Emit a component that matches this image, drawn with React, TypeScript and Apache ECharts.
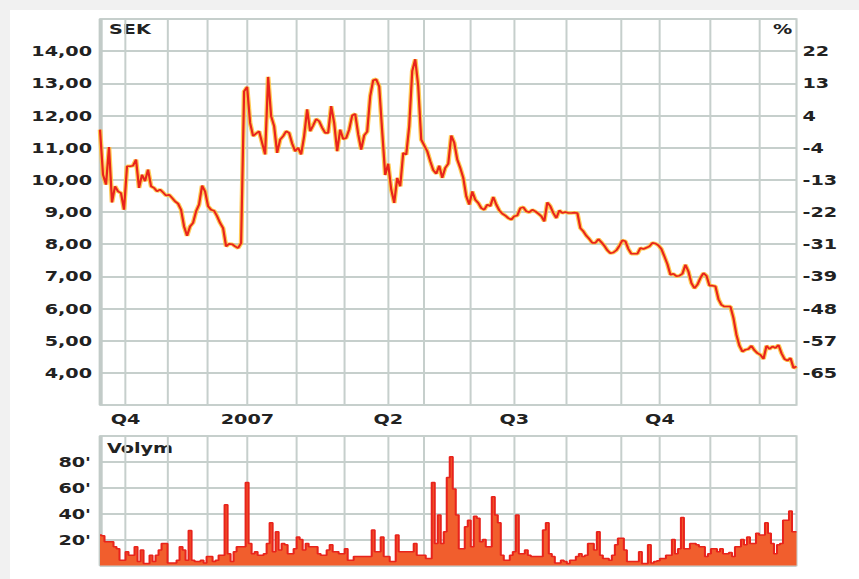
import React, { useEffect, useRef } from "react";
import * as echarts from "echarts";

// Daily-ish closing price (SEK)
const price = [
  11.56, 10.16, 9.85, 11.02, 9.3, 9.8, 9.64, 9.59, 9.07, 10.42,
  10.42, 10.44, 10.63, 9.75, 10.16, 9.96, 10.32, 9.8, 9.75, 9.64,
  9.7, 9.61, 9.51, 9.54, 9.44, 9.33, 9.26, 9.07, 8.55, 8.26,
  8.55, 8.66, 9.02, 9.23, 9.82, 9.64, 9.18, 9.07, 9.04, 8.87,
  8.66, 8.5, 7.93, 8.01, 8.0, 7.93, 7.88, 8.03, 12.75, 12.89,
  11.77, 11.36, 11.44, 11.51, 11.15, 10.79, 13.2, 11.98, 11.67, 10.84,
  11.25, 11.36, 11.51, 11.46, 11.13, 10.89, 11.0, 10.79, 11.36, 12.19,
  11.51, 11.69, 11.89, 11.82, 11.62, 11.46, 11.46, 12.29, 11.77, 10.89,
  11.56, 11.27, 11.3, 11.56, 12.0, 12.05, 11.42, 10.94, 11.38, 11.5,
  12.6, 13.1, 13.13, 12.9, 11.5, 10.15, 10.5, 9.7, 9.28, 10.06,
  9.8, 10.84, 10.78, 11.67, 13.38, 13.75, 12.91, 11.25, 11.07, 10.89,
  10.58, 10.3, 10.19, 10.44, 10.06, 10.37, 10.5, 11.38, 11.15, 10.63,
  10.37, 10.06, 9.49, 9.23, 9.64, 9.38, 9.28, 9.12, 9.07, 9.23,
  9.18, 9.47, 9.23, 9.05, 8.95, 8.89, 8.81, 8.76, 8.87, 8.89,
  9.12, 9.15, 9.02, 8.99, 9.07, 9.02, 8.95, 8.87, 8.71, 9.3,
  9.18, 8.97, 8.81, 9.05, 8.97, 9.0, 8.97, 8.97, 8.98, 8.97,
  8.5, 8.4, 8.26, 8.16, 8.04, 8.04, 8.16, 8.06, 7.95, 7.81,
  7.72, 7.74, 7.81, 7.95, 8.12, 8.09, 7.85, 7.7, 7.7, 7.7,
  7.88, 7.85, 7.89, 7.93, 8.04, 8.02, 7.96, 7.85, 7.62, 7.38,
  7.05, 7.08, 7.0, 7.02, 7.08, 7.36, 7.15, 6.79, 6.63, 6.74,
  6.95, 7.1, 7.02, 6.71, 6.71, 6.69, 6.29, 6.11, 6.06, 6.06,
  6.06, 5.7, 5.18, 4.84, 4.66, 4.72, 4.74, 4.84, 4.7, 4.61,
  4.56, 4.43, 4.84, 4.74, 4.82, 4.77, 4.87, 4.61, 4.43, 4.38,
  4.46, 4.15, 4.2,
];

// Volume in thousands
const volume = [
  23.6, 23, 18.4, 18.4, 18.4, 14.5, 13, 4, 4, 10.6,
  8, 8, 14.5, 3, 12, 1.5, 1.5, 8, 3, 8,
  12, 17, 17, 2, 2, 2, 4, 14.5, 12, 4,
  27, 4, 3, 3, 4, 2, 7, 7, 3, 4,
  8, 8, 47, 9, 3, 10.6, 14.5, 14.5, 14.5, 64,
  17, 9, 10.6, 8, 8, 9, 17, 33, 10.6, 26,
  12, 17, 16, 9, 9, 13, 22, 20, 12, 17,
  14.5, 14.5, 14.5, 9, 8, 8, 12, 16, 10.6, 10.6,
  9, 9, 13, 4, 4, 7, 7, 7, 7, 7,
  7, 27.5, 10.6, 10.6, 22, 7, 7, 3, 3, 23.6,
  10.6, 10.6, 10.6, 10.6, 10.6, 17, 8, 8, 8, 5.5,
  5.5, 64, 17, 39, 17, 26, 68, 84, 59, 39,
  13, 13, 30, 35, 14.5, 38, 36.5, 18.4, 20, 14.5,
  14.5, 53, 39, 33, 8, 4, 4, 8, 10.6, 39,
  9, 9, 12, 8, 7, 7, 7, 7, 27.5, 33,
  9, 7, 2, 2, 4, 3, 1.5, 4, 4, 7,
  9, 7, 8, 17, 17, 12, 26, 8, 5.5, 5.5,
  4, 8, 16, 21, 21, 12, 3, 3, 3, 3,
  10.6, 1.5, 1.5, 16, 2, 3, 3.6, 5.5, 5.5, 8,
  8, 20, 9, 13, 37, 13, 13, 17, 17, 16,
  14.5, 14.5, 7, 9, 13, 13, 10.6, 13, 9, 9,
  10, 7, 14.5, 14.5, 20, 16, 22, 17, 17, 25,
  23.6, 23.6, 33, 25, 17, 9, 16, 17, 35, 35,
  42, 26, 26,
];

// Month boundaries (in trading-day index units) and quarter labels
const monthTicks = [8.5, 22.6, 35.7, 49.1, 65.5, 81.3, 96, 107.7, 123.5, 138, 155.2, 173.3, 186.5, 203, 219.5];
const quarterTicks = [8.5, 49.1, 96, 138, 186.5];
const quarterLabels = ["Q4", "2007", "Q2", "Q3", "Q4"];

const priceLabels = ["4,00", "5,00", "6,00", "7,00", "8,00", "9,00", "10,00", "11,00", "12,00", "13,00", "14,00"];
const pctLabels = ["-65", "-57", "-48", "-39", "-31", "-22", "-13", "-4", "4", "13", "22"];
const volumeLabels = ["20'", "40'", "60'", "80'"];

const S = 1.37;
const W = 859 / S;
const H = 579;
const GRID = "#c6cfcc";
const FONT = "DejaVu Sans";
const FS = 14;
const FW = "bold";
const TXT = "#222222";

export default function App() {
  const ref = useRef<HTMLDivElement>(null);

  useEffect(() => {
    if (!ref.current) return;
    const chart = echarts.init(ref.current, null, { renderer: "svg", width: W, height: H });
    const N = price.length - 1;
    const left = 100 / S;
    const right = W - 796.5 / S;
    const labelStyle = { fontFamily: FONT, fontSize: FS, fontWeight: FW, color: TXT };
    const vGrid = {
      z: 1,
      silent: true,
      symbol: ["none", "none"],
      label: { show: false },
      lineStyle: { color: GRID, width: 2 / S, type: "solid" },
      emphasis: { disabled: true },
      data: [
        { xAxis: 0, lineStyle: { color: "#c2cbc8", width: 4 / S, type: "solid" } },
        ...monthTicks.map((x) => ({ xAxis: x })),
      ],
    };
    const priceData = price.map((v, i) => [i, v]);
    const option: any = {
      animation: false,
      backgroundColor: "transparent",
      grid: [
        { left, right, top: 19, height: 386, show: true, borderColor: GRID, borderWidth: 1.6, backgroundColor: "#fff" },
        { left, right, top: 436, height: 129.5, show: true, borderColor: GRID, borderWidth: 1.6, backgroundColor: "#fff" },
      ],
      xAxis: [
        {
          type: "value", gridIndex: 0, min: 0, max: N,
          axisLine: { show: false }, axisTick: { show: false }, splitLine: { show: false },
          axisLabel: {
            ...labelStyle,
            margin: 7,
            customValues: quarterTicks,
            formatter: (v: number) => {
              let best = 0;
              quarterTicks.forEach((t, k) => { if (Math.abs(t - v) < Math.abs(quarterTicks[best] - v)) best = k; });
              return Math.abs(quarterTicks[best] - v) < 0.5 ? quarterLabels[best] : "";
            },
          },
        },
        {
          type: "value", gridIndex: 1, min: 0, max: N,
          axisLine: { show: false }, axisTick: { show: false }, splitLine: { show: false }, axisLabel: { show: false },
        },
      ],
      yAxis: [
        {
          type: "value", gridIndex: 0, position: "left", min: 3, max: 15, interval: 1,
          axisLine: { show: false }, axisTick: { show: false },
          splitLine: { show: true, lineStyle: { color: GRID, width: 2 } },
          axisLabel: { ...labelStyle, margin: 8 / S, formatter: (v: number) => priceLabels[Math.round(v) - 4] ?? "" },
        },
        {
          type: "value", gridIndex: 0, position: "right", min: 3, max: 15, interval: 1,
          axisLine: { show: false }, axisTick: { show: false }, splitLine: { show: false },
          axisLabel: { ...labelStyle, margin: 6 / S, formatter: (v: number) => pctLabels[Math.round(v) - 4] ?? "" },
        },
        {
          type: "value", gridIndex: 1, min: 0, max: 100, interval: 20,
          axisLine: { show: false }, axisTick: { show: false },
          splitLine: { show: true, lineStyle: { color: GRID, width: 2 } },
          axisLabel: { ...labelStyle, margin: 9 / S, formatter: (v: number) => volumeLabels[Math.round(v / 20) - 1] ?? "" },
        },
      ],
      series: [
        {
          type: "line", xAxisIndex: 0, yAxisIndex: 0, data: priceData, showSymbol: false, silent: true, z: 2,
          lineStyle: { color: "#ffc238", width: 3.4, opacity: 0.85 },
          markLine: vGrid,
        },
        {
          type: "line", xAxisIndex: 0, yAxisIndex: 0, data: priceData, showSymbol: false, silent: true, z: 3,
          lineStyle: { color: "#e8231c", width: 1.6 },
        },
        {
          type: "line", xAxisIndex: 1, yAxisIndex: 2, data: volume.map((v, i) => [i, v]),
          step: "middle", showSymbol: false, silent: true, z: 2,
          lineStyle: { color: "#e8231c", width: 1.5 },
          areaStyle: { color: "#f15e2d", opacity: 1 },
          markLine: vGrid,
        },
      ],
      graphic: [
        { type: "text", x: 109 / S, y: 22, style: { text: "SEK", fontFamily: FONT, fontSize: FS, fontWeight: FW, fill: TXT } },
        { type: "text", x: 773 / S, y: 22, style: { text: "%", fontFamily: FONT, fontSize: FS, fontWeight: FW, fill: TXT } },
        { type: "text", x: 107 / S, y: 441, style: { text: "Volym", fontFamily: FONT, fontSize: FS, fontWeight: FW, fill: TXT } },
      ],
    };
    chart.setOption(option);
    return () => chart.dispose();
  }, []);

  return (
    <div style={{ position: "fixed", left: 0, top: 0, width: 859, height: 579, background: "#f1f1f1", overflow: "hidden" }}>
      <div style={{ position: "absolute", left: 10, top: 10, right: 0, bottom: 0, background: "#ffffff" }} />
      <div
        ref={ref}
        style={{ position: "absolute", left: 0, top: 0, width: W, height: H, transform: `scaleX(${S})`, transformOrigin: "0 0" }}
      />
    </div>
  );
}
